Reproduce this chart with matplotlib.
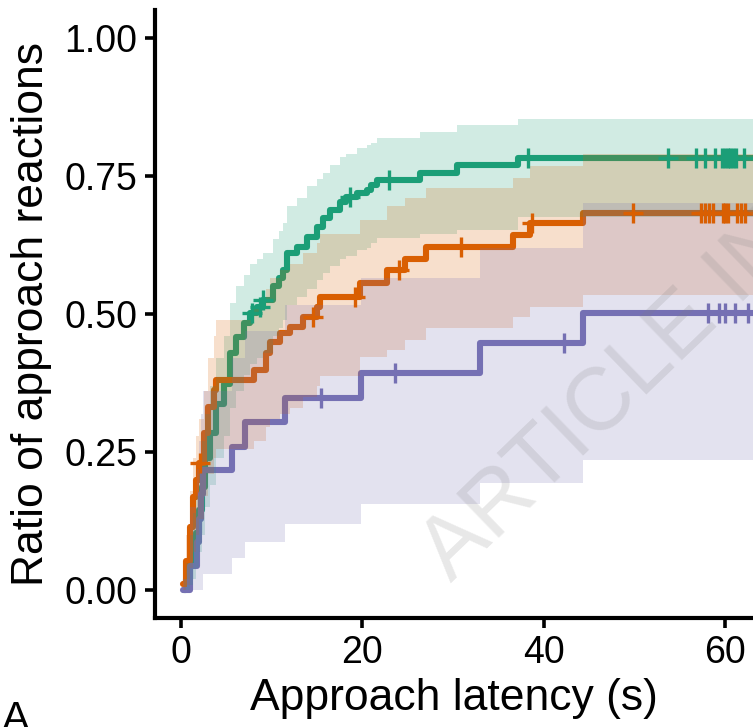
import numpy as np
import matplotlib
matplotlib.use("Agg")
import matplotlib.pyplot as plt

plt.rcParams['font.family'] = ['Liberation Sans', 'DejaVu Sans']

# cumulative approach ratio per group (step times, value, CI)
green_t = [0.3, 0.6, 1.0, 1.3, 1.7, 2.0, 2.3, 2.6, 3.2, 3.9, 4.7, 5.4, 6.1, 6.9, 7.6, 8.4, 9.0,
           10.2, 10.8, 11.3, 11.65, 12.8, 13.9, 15.0, 15.7, 16.4, 17.5, 18.2, 19.4, 20.5, 21.0,
           21.6, 26.4, 30.4, 37.2]
green_y = [0.0, 0.02, 0.049, 0.075, 0.103, 0.145, 0.187, 0.24, 0.284, 0.338, 0.374, 0.429, 0.459,
           0.483, 0.501, 0.513, 0.525, 0.55, 0.565, 0.58, 0.61, 0.622, 0.64, 0.658, 0.674, 0.688,
           0.703, 0.712, 0.719, 0.725, 0.734, 0.743, 0.755, 0.770, 0.782]
green_hi = [0.02, 0.05, 0.10, 0.14, 0.17, 0.22, 0.27, 0.32, 0.37, 0.42, 0.46, 0.52, 0.55, 0.57,
            0.59, 0.60, 0.61, 0.635, 0.65, 0.665, 0.695, 0.71, 0.731, 0.745, 0.755, 0.77, 0.785,
            0.79, 0.80, 0.805, 0.81, 0.818, 0.83, 0.842, 0.853]
green_lo = [0.0, 0.0, 0.01, 0.02, 0.04, 0.07, 0.10, 0.15, 0.19, 0.24, 0.28, 0.33, 0.36, 0.39,
            0.41, 0.42, 0.43, 0.46, 0.475, 0.49, 0.516, 0.531, 0.545, 0.562, 0.575, 0.586, 0.60,
            0.605, 0.616, 0.62, 0.628, 0.637, 0.645, 0.652, 0.676]
green_cens = [7.8, 8.7, 9.1, 18.6, 23.0, 38.3, 53.7, 56.8, 57.8, 58.9, 59.7, 60.0, 60.3, 60.6,
              60.9, 61.2, 62.1]

orange_t = [0.26, 0.6, 1.0, 1.35, 1.7, 2.0, 2.5, 3.0, 3.6, 3.9, 8.0, 9.4, 9.8, 10.9, 12.0, 13.5,
            15.0, 15.3, 19.7, 22.7, 24.7, 27.0, 36.6, 38.5, 44.4]
orange_y = [0.012, 0.054, 0.115, 0.169, 0.20, 0.23, 0.284, 0.332, 0.362, 0.38, 0.399, 0.429, 0.45,
            0.465, 0.477, 0.495, 0.513, 0.53, 0.556, 0.58, 0.60, 0.622, 0.643, 0.664, 0.682]
orange_hi = [0.03, 0.10, 0.18, 0.24, 0.28, 0.31, 0.36, 0.42, 0.46, 0.49, 0.51, 0.545, 0.565, 0.58,
             0.59, 0.61, 0.628, 0.645, 0.67, 0.695, 0.71, 0.728, 0.746, 0.767, 0.79]
orange_lo = [0.0, 0.01, 0.04, 0.07, 0.10, 0.13, 0.17, 0.21, 0.24, 0.255, 0.27, 0.295, 0.31, 0.32,
             0.33, 0.35, 0.37, 0.387, 0.423, 0.435, 0.453, 0.475, 0.495, 0.513, 0.534]
orange_cens = [2.05, 14.6, 19.2, 24.1, 30.9, 38.7, 49.9, 57.4, 57.8, 58.3, 58.7, 59.8, 60.0, 60.3,
               61.3, 61.8, 62.2]

purple_t = [0.26, 1.0, 1.8, 2.0, 2.2, 2.4, 5.6, 7.06, 11.5, 19.9, 33.0, 44.4]
purple_y = [0.0, 0.0435, 0.087, 0.13, 0.174, 0.217, 0.26, 0.304, 0.348, 0.393, 0.447, 0.501]
purple_hi = [0.02, 0.15, 0.22, 0.27, 0.32, 0.36, 0.42, 0.47, 0.516, 0.565, 0.62, 0.70]
purple_lo = [0.0, 0.0, 0.0, 0.0, 0.0, 0.03, 0.058, 0.0875, 0.121, 0.156, 0.194, 0.236]
purple_cens = [15.5, 23.6, 42.3, 58.1, 59.4, 60.0, 61.1, 62.5]

t_end = 63.5

groups = [
    (green_t, green_y, green_lo, green_hi, green_cens, '#1B9E77'),
    (orange_t, orange_y, orange_lo, orange_hi, orange_cens, '#D95F02'),
    (purple_t, purple_y, purple_lo, purple_hi, purple_cens, '#7570B3'),
]

fig = plt.figure(figsize=(7.53, 7.27), dpi=100)
ax = fig.add_axes([0.2058, 0.1499, 0.7942, 0.8363])


def ext(t, v):
    return np.append(t, t_end), np.append(v, v[-1])


# lines first, ribbons drawn over them, censor marks on top
for t, y, lo, hi, cens, col in groups:
    tt, yy = ext(t, y)
    ax.step(tt, yy, where='post', color=col, lw=4.4, solid_joinstyle='round',
            solid_capstyle='round', zorder=2)

for t, y, lo, hi, cens, col in groups:
    tt, ll = ext(t, lo)
    _, hh = ext(t, hi)
    ax.fill_between(tt, ll, hh, step='post', color=col, alpha=0.2, lw=0, zorder=3)

for t, y, lo, hi, cens, col in groups:
    idx = np.searchsorted(t, cens, side='right') - 1
    cy = np.array(y)[idx]
    ax.plot(cens, cy, ls='none', marker='+', ms=15, mew=2.4, color=col, zorder=4)

ax.set_xlim(-2.87, 63.1)
ax.set_ylim(-0.05, 1.05)
ax.set_xticks([0, 20, 40, 60])
ax.set_yticks([0, 0.25, 0.5, 0.75, 1.0])
ax.set_yticklabels(['0.00', '0.25', '0.50', '0.75', '1.00'])
for s in ['top', 'right']:
    ax.spines[s].set_visible(False)
for s in ['left', 'bottom']:
    ax.spines[s].set_linewidth(3)
ax.tick_params(length=7.5, width=2.6, labelsize=27, pad=5, color='black', labelcolor='black')

ax.set_xlabel('Approach latency (s)', fontsize=32)
ax.set_ylabel('Ratio of approach reactions', fontsize=32)
ax.xaxis.set_label_coords(0.5, -0.098)
ax.yaxis.set_label_coords(-0.172, 0.5)

# watermark
fig.text(0.60, 0.198, 'ARTICLE IN PRESS', fontsize=64, color='gray', alpha=0.18,
         rotation=44, rotation_mode='anchor', ha='left', va='baseline', zorder=10)

# panel letter
fig.text(0.003, -0.006, 'A', fontsize=30, ha='left', va='baseline')

fig.savefig('out.png', dpi=100)
